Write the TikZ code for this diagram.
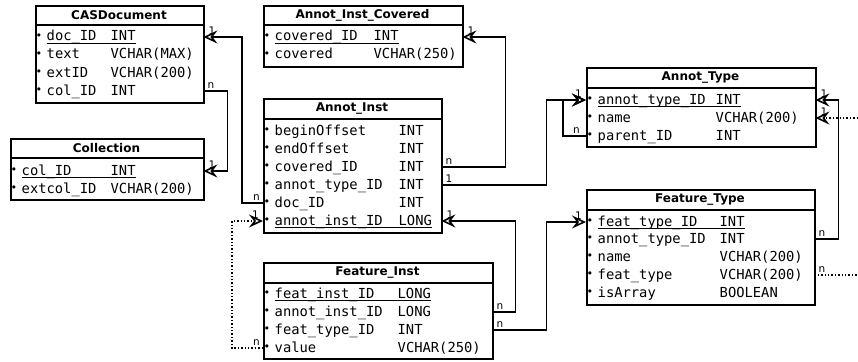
\documentclass[tikz,border=0pt]{standalone}
\usepackage{fontspec}
\setmainfont{DejaVu Sans}
\setsansfont{DejaVu Sans}
\setmonofont{DejaVu Sans Mono}
\usetikzlibrary{arrows.meta}
\newcommand{\bul}{\makebox[11.5pt][l]{\hspace{0.5pt}\raisebox{1.5pt}{\fontsize{11}{11}\selectfont •}}}
\newcommand{\nm}[2]{\makebox[#1][l]{#2}}
\newcommand{\ul}[1]{\setbox0\hbox{#1}\rlap{\rule[-3pt]{\wd0}{1.1pt}}\box0}
\tikzset{
 tbl/.style={draw, line width=1.6pt, inner sep=0pt, anchor=north west},
 ttl/.style={font=\sffamily\bfseries\fontsize{12}{12}\selectfont, inner sep=0pt},
 rowt/.style={anchor=west, inner xsep=0pt, inner ysep=0pt, align=left,
   font=\ttfamily\fontsize{13.8}{14}\selectfont, text height=10pt, text depth=2pt},
 sep/.style={line width=1.6pt},
 conn/.style={line width=1.7pt},
 dconn/.style={line width=1.4pt, dotted},
 arr/.style={-{Stealth[open, length=14pt, width=13pt, inset=5pt, line width=1.6pt]}},
 lbl/.style={font=\sffamily\fontsize{10.5}{10.5}\selectfont, inner sep=0pt},
}
\begin{document}
\begin{tikzpicture}[x=1pt,y=-1pt]
\useasboundingbox (0,0) rectangle (858,361);

% CASDocument
\node[tbl, minimum width=168pt, minimum height=97pt] (cas) at (35,5) {};
\draw[sep] (35,25) -- (203,25);
\node[ttl] (cas-t) at (119,15) {CASDocument};
\node[rowt, text width=168pt] (cas-doc) at (35,37) {\bul\ul{\nm{64pt}{doc\_ID}INT}};
\node[rowt, text width=168pt] (cas-text) at (35,55) {\bul\nm{64pt}{text}VCHAR(MAX)};
\node[rowt, text width=168pt] (cas-ext) at (35,73) {\bul\nm{64pt}{extID}VCHAR(200)};
\node[rowt, text width=168pt] (cas-col) at (35,91) {\bul\nm{64pt}{col\_ID}INT};

% Collection
\node[tbl, minimum width=193pt, minimum height=61pt] (coll) at (10,138) {};
\draw[sep] (10,158) -- (203,158);
\node[ttl] (coll-t) at (106.5,148) {Collection};
\node[rowt, text width=193pt] (coll-col) at (10,171) {\bul\ul{\nm{89pt}{col\_ID}INT}};
\node[rowt, text width=193pt] (coll-ext) at (10,189) {\bul\nm{89pt}{extcol\_ID}VCHAR(200)};

% Annot_Inst_Covered
\node[tbl, minimum width=199pt, minimum height=61pt] (aic) at (263,5) {};
\draw[sep] (263,25) -- (462,25);
\node[ttl] (aic-t) at (362.5,15) {Annot\_Inst\_Covered};
\node[rowt, text width=199pt] (aic-id) at (263,37) {\bul\ul{\nm{99pt}{covered\_ID}INT}};
\node[rowt, text width=199pt] (aic-cov) at (263,55) {\bul\nm{99pt}{covered}VCHAR(250)};

% Annot_Inst
\node[tbl, minimum width=178pt, minimum height=134pt] (ai) at (263,98) {};
\draw[sep] (263,119) -- (441,119);
\node[ttl] (ai-t) at (352,108.5) {Annot\_Inst};
\node[rowt, text width=178pt] (ai-begin) at (263,131) {\bul\nm{124pt}{beginOffset}INT};
\node[rowt, text width=178pt] (ai-end) at (263,149) {\bul\nm{124pt}{endOffset}INT};
\node[rowt, text width=178pt] (ai-cov) at (263,167) {\bul\nm{124pt}{covered\_ID}INT};
\node[rowt, text width=178pt] (ai-atype) at (263,185) {\bul\nm{124pt}{annot\_type\_ID}INT};
\node[rowt, text width=178pt] (ai-doc) at (263,203) {\bul\nm{124pt}{doc\_ID}INT};
\node[rowt, text width=178pt] (ai-id) at (263,221) {\bul\ul{\nm{124pt}{annot\_inst\_ID}LONG}};

% Feature_Inst
\node[tbl, minimum width=229pt, minimum height=96pt] (fi) at (263,262) {};
\draw[sep] (263,283) -- (492,283);
\node[ttl] (fi-t) at (377.5,272.5) {Feature\_Inst};
\node[rowt, text width=229pt] (fi-id) at (263,294) {\bul\ul{\nm{123pt}{feat\_inst\_ID}LONG}};
\node[rowt, text width=229pt] (fi-ai) at (263,312) {\bul\nm{123pt}{annot\_inst\_ID}LONG};
\node[rowt, text width=229pt] (fi-ft) at (263,330) {\bul\nm{123pt}{feat\_type\_ID}INT};
\node[rowt, text width=229pt] (fi-val) at (263,348) {\bul\nm{123pt}{value}VCHAR(250)};

% Annot_Type
\node[tbl, minimum width=229pt, minimum height=79pt] (at) at (586,67) {};
\draw[sep] (586,88) -- (815,88);
\node[ttl] (at-t) at (700.5,77.5) {Annot\_Type};
\node[rowt, text width=229pt] (at-id) at (586,100) {\bul\ul{\nm{118pt}{annot\_type\_ID}INT}};
\node[rowt, text width=229pt] (at-name) at (586,118) {\bul\nm{118pt}{name}VCHAR(200)};
\node[rowt, text width=229pt] (at-par) at (586,136) {\bul\nm{118pt}{parent\_ID}INT};

% Feature_Type
\node[tbl, minimum width=228pt, minimum height=115pt] (ft) at (586,189) {};
\draw[sep] (586,210) -- (814,210);
\node[ttl] (ft-t) at (700,199.5) {Feature\_Type};
\node[rowt, text width=228pt] (ft-id) at (586,222) {\bul\ul{\nm{122pt}{feat\_type\_ID}INT}};
\node[rowt, text width=228pt] (ft-at) at (586,239) {\bul\nm{122pt}{annot\_type\_ID}INT};
\node[rowt, text width=228pt] (ft-name) at (586,257) {\bul\nm{122pt}{name}VCHAR(200)};
\node[rowt, text width=228pt] (ft-ftype) at (586,275) {\bul\nm{122pt}{feat\_type}VCHAR(200)};
\node[rowt, text width=228pt] (ft-arr) at (586,293) {\bul\nm{122pt}{isArray}BOOLEAN};

\coordinate (offa) at (858,275);
\coordinate (offb) at (858,118);

% connectors
\draw[conn,arr] (cas-col.east) -- ([xshift=24pt]cas-col.east) |- (coll-col.east);
\draw[conn,arr] (ai-doc.west) -- ([xshift=-21pt]ai-doc.west) |- (cas-doc.east);
\draw[dconn,arr] (fi-val.west) -- ([xshift=-31pt]fi-val.west) |- (ai-id.west);
\draw[conn,arr] (ai-cov.east) -- ([xshift=64pt]ai-cov.east) |- (aic-id.east);
\draw[conn,arr] (ai-atype.east) -- ([xshift=105pt]ai-atype.east) |- (at-id.west);
\draw[conn,arr] (at-par.west) -- ([xshift=-23pt]at-par.west) |- (at-id.west);
\draw[conn,arr] (fi-ai.east) -- ([xshift=23pt]fi-ai.east) |- (ai-id.east);
\draw[conn,arr] (fi-ft.east) -- ([xshift=54pt]fi-ft.east) |- (ft-id.west);
\draw[conn,arr] (ft-at.east) -- ([xshift=24pt]ft-at.east) |- (at-id.east);
\draw[dconn] (ft-ftype.east) -- (offa);
\draw[dconn,arr] (offb) -- (at-name.east);

% cardinality labels
\node[lbl, anchor=south west] (l1) at ([xshift=4pt,yshift=2pt]cas-col.east) {n};
\node[lbl, anchor=south west] (l2) at ([xshift=5pt,yshift=2pt]coll-col.east) {1};
\node[lbl, anchor=south east] (l3) at ([xshift=-3pt,yshift=2pt]ai-doc.west) {n};
\node[lbl, anchor=south west] (l4) at ([xshift=5pt,yshift=2pt]cas-doc.east) {1};
\node[lbl, anchor=south east] (l5) at ([xshift=-3pt,yshift=2pt]fi-val.west) {n};
\node[lbl, anchor=south east] (l6) at ([xshift=-4pt,yshift=2pt]ai-id.west) {1};
\node[lbl, anchor=south west] (l7) at ([xshift=4pt,yshift=2pt]ai-cov.east) {n};
\node[lbl, anchor=south west] (l8) at ([xshift=5pt,yshift=2pt]aic-id.east) {1};
\node[lbl, anchor=south west] (l9) at ([xshift=4pt,yshift=2pt]ai-atype.east) {1};
\node[lbl, anchor=south east] (l10) at ([xshift=-4pt,yshift=2pt]at-id.west) {1};
\node[lbl, anchor=south east] (l11) at ([xshift=-6pt,yshift=2pt]at-par.west) {n};
\node[lbl, anchor=south west] (l12) at ([xshift=4pt,yshift=2pt]fi-ai.east) {n};
\node[lbl, anchor=south west] (l13) at ([xshift=5pt,yshift=2pt]ai-id.east) {1};
\node[lbl, anchor=south west] (l14) at ([xshift=4pt,yshift=2pt]fi-ft.east) {n};
\node[lbl, anchor=south east] (l15) at ([xshift=-4pt,yshift=2pt]ft-id.west) {1};
\node[lbl, anchor=south west] (l16) at ([xshift=4pt,yshift=2pt]ft-at.east) {n};
\node[lbl, anchor=south west] (l17) at ([xshift=5pt,yshift=2pt]at-id.east) {1};
\node[lbl, anchor=south west] (l18) at ([xshift=4pt,yshift=2pt]ft-ftype.east) {n};
\node[lbl, anchor=south west] (l19) at ([xshift=5pt,yshift=2pt]at-name.east) {1};
\end{tikzpicture}
\end{document}
